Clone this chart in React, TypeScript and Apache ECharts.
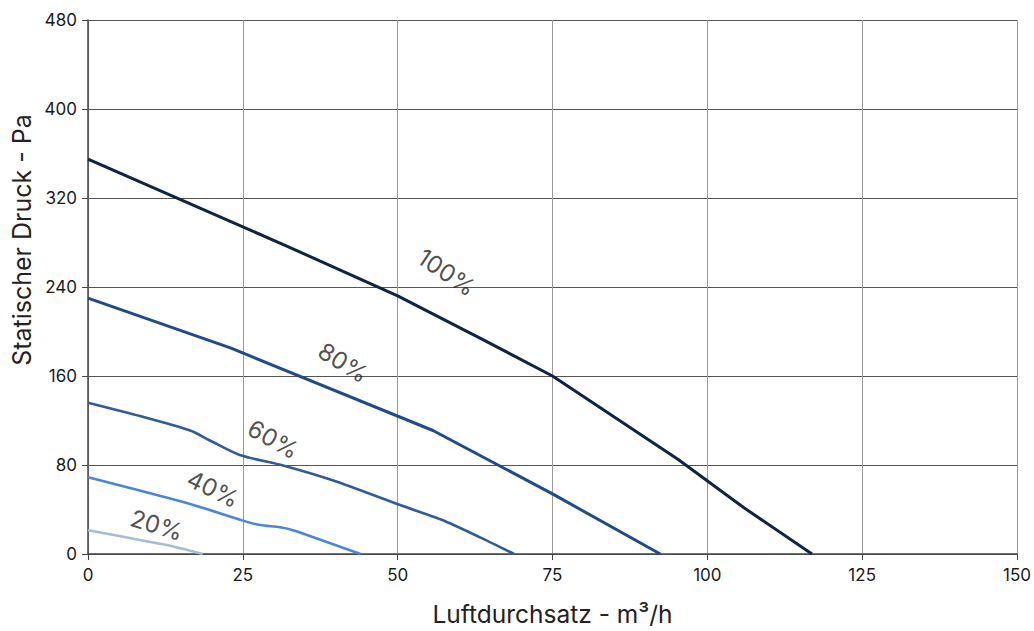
import React, { useEffect, useRef } from "react";
import * as echarts from "echarts";

const xTicks = { min: 0, max: 150, interval: 25 };
const yTicks = { min: 0, max: 480, interval: 80 };

const curve100: [number, number][] = [
  [0, 355], [32, 277], [50, 232], [64, 192], [75, 160], [95.3, 85], [105.8, 42], [116.9, 0],
];
const curve80: [number, number][] = [
  [0, 230], [23.1, 185], [55.7, 111], [75, 54], [92.4, 0],
];
const curve60: [number, number][] = [
  [0, 136], [8.4, 124], [16.5, 111], [19.7, 102], [24.5, 89], [31.5, 79.5], [39.6, 66], [50.4, 44], [57, 31], [63.3, 15], [68.8, 0],
];
const curve40: [number, number][] = [
  [0, 69], [16.5, 45], [25, 30], [27.8, 26], [31, 24], [33.1, 21.4], [44, 0],
];
const curve20: [number, number][] = [
  [0, 21.4], [12.7, 8], [18.5, 0],
];

const seriesNames = ["100%", "80%", "60%", "40%", "20%"];
const seriesColors = ["#0e2442", "#1f4b86", "#2f5c98", "#4a86d6", "#a3bcdc"];
const seriesWidths = [3, 3, 2.6, 2.6, 2.6];
const seriesData = [curve100, curve80, curve60, curve40, curve20];

// label anchor in data coords and rotation angle (deg, clockwise)
const labelPos: [number, number][] = [
  [57.9, 253], [41.2, 172], [29.9, 103], [20.2, 58.4], [11.1, 25.9],
];
const labelAngle = [34, 32, 29, 26, 17];

const xTitle = "Luftdurchsatz - m³/h";
const yTitle = "Statischer Druck - Pa";

const FONT = "Inter, 'Noto Sans', sans-serif";

export default function App() {
  const ref = useRef<HTMLDivElement>(null);
  useEffect(() => {
    if (!ref.current) return;
    const chart = echarts.init(ref.current, undefined, { renderer: "svg" });
    const lineSeries = seriesData.map((d, i) => ({
      type: "line",
      name: seriesNames[i],
      data: d,
      showSymbol: false,
      symbol: "none",
      smooth: i >= 2 ? 0.25 : false,
      lineStyle: { color: seriesColors[i], width: seriesWidths[i] },
      z: 3,
    }));
    const labelSeries = labelPos.map((p, i) => ({
      type: "scatter",
      data: [p],
      symbolSize: 1,
      itemStyle: { color: "rgba(0,0,0,0)" },
      silent: true,
      z: 4,
      label: {
        show: true,
        position: "inside",
        formatter: seriesNames[i],
        rotate: -labelAngle[i],
        color: "#222",
        fontSize: 24,
        fontFamily: FONT,
        align: "center",
        verticalAlign: "middle",
      },
    }));
    chart.setOption({
      animation: false,
      backgroundColor: "#ffffff",
      grid: { left: 88, right: 17, top: 20, bottom: 74, containLabel: false },
      xAxis: {
        type: "value",
        min: xTicks.min,
        max: xTicks.max,
        interval: xTicks.interval,
        name: xTitle,
        nameLocation: "middle",
        nameGap: 47,
        nameTextStyle: { fontSize: 24.5, color: "#222", fontFamily: FONT },
        axisLine: { show: true, lineStyle: { color: "#444", width: 1.5 } },
        axisTick: { show: true, length: 6, lineStyle: { color: "#444" } },
        axisLabel: { fontSize: 17, color: "#1a1a1a", fontFamily: FONT, margin: 12 },
        splitLine: { show: true, lineStyle: { color: "#9a9a9a", width: 1 } },
      },
      yAxis: {
        type: "value",
        min: yTicks.min,
        max: yTicks.max,
        interval: yTicks.interval,
        axisLine: { show: true, lineStyle: { color: "#444", width: 1.5 } },
        axisTick: { show: true, length: 6, lineStyle: { color: "#444" } },
        axisLabel: { fontSize: 17, color: "#1a1a1a", fontFamily: FONT, margin: 11 },
        splitLine: { show: true, lineStyle: { color: "#555", width: 1 } },
      },
      graphic: [
        {
          type: "text",
          x: 22,
          y: 240,
          rotation: Math.PI / 2,
          style: {
            text: yTitle,
            fontSize: 25,
            fontFamily: FONT,
            fill: "#222",
            align: "center",
            verticalAlign: "middle",
          },
        },
      ],
      series: [...lineSeries, ...labelSeries],
    });
    return () => chart.dispose();
  }, []);
  return <div ref={ref} style={{ width: 1034, height: 631, position: "absolute", left: 0, top: 0 }} />;
}
